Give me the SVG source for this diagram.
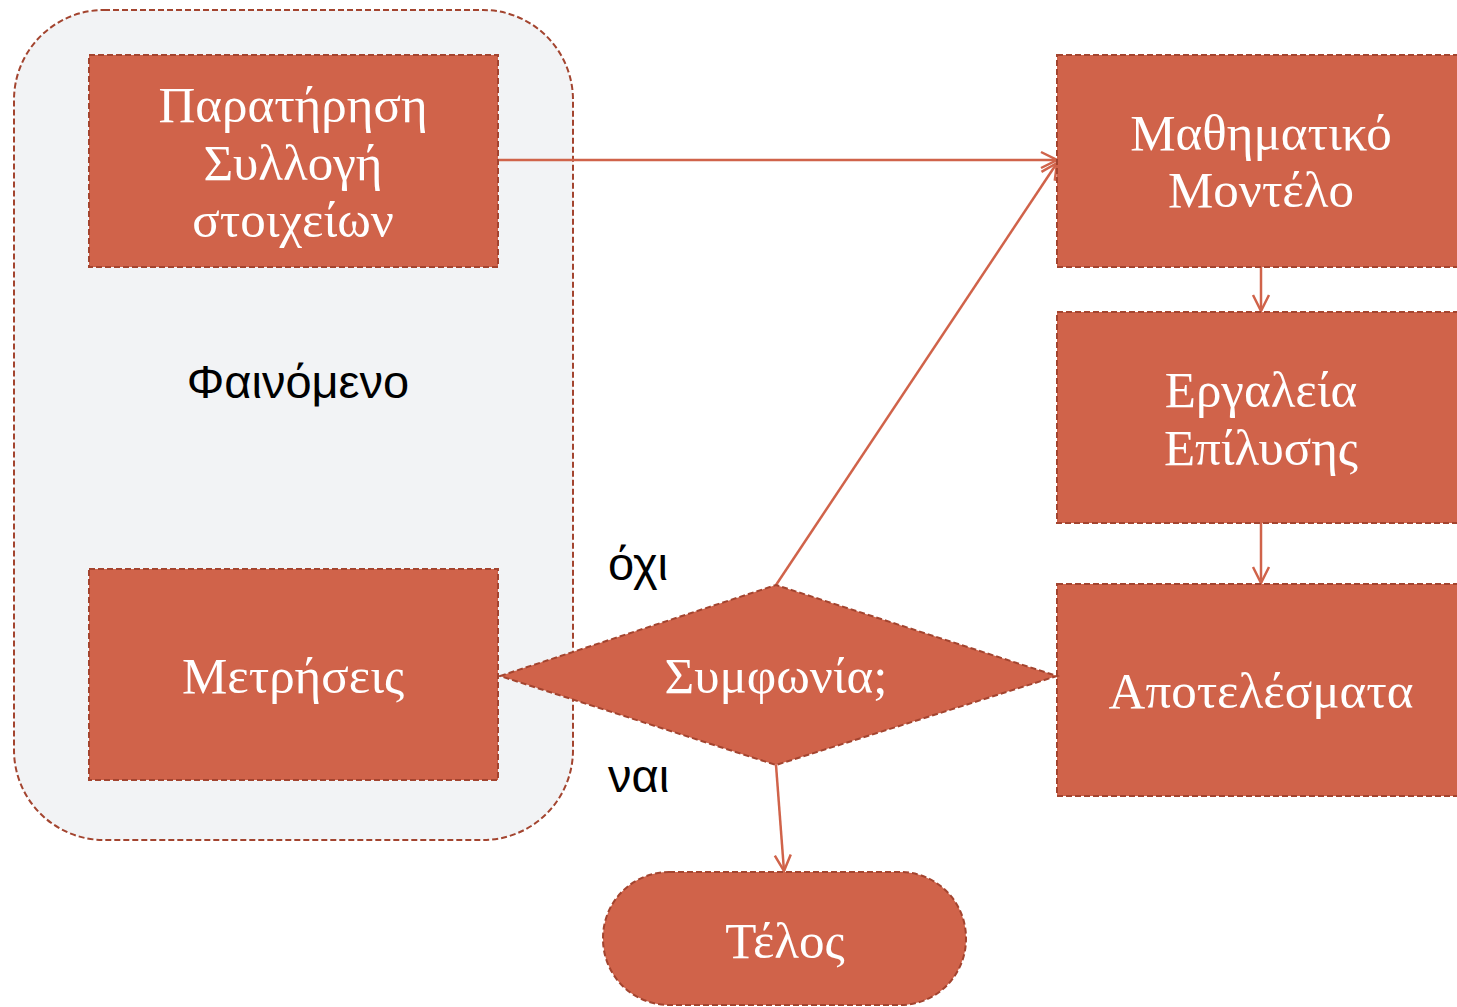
<svg xmlns="http://www.w3.org/2000/svg" width="1457" height="1007" viewBox="0 0 1457 1007">
<style>
.node{fill:#d0634a;stroke:#a3442f;stroke-width:2;stroke-dasharray:6,3}
.t{font-family:"Liberation Serif","DejaVu Serif",serif;font-size:51px;fill:#ffffff;text-anchor:middle}
.s{font-family:"Liberation Sans",Arial,sans-serif;font-size:47px;fill:#000000}
.c{fill:none;stroke:#d0634a;stroke-width:2.5}
</style>
<defs>
<marker id="ah" viewBox="0 0 20 20" refX="18" refY="10" markerWidth="20" markerHeight="20" markerUnits="userSpaceOnUse" orient="auto">
<path d="M2,2 L18,10 L2,18" fill="none" stroke="#d0634a" stroke-width="2.5"/>
</marker>
</defs>
<rect width="1457" height="1007" fill="#ffffff"/>
<g id="container">
<rect x="14" y="10" width="559" height="830" rx="90" fill="#f2f3f5" stroke="#a3442f" stroke-width="2" stroke-dasharray="6,3"/>
<text class="s" x="298" y="398" text-anchor="middle">Φαινόμενο</text>
</g>
<g id="connectors">
<line class="c" x1="498" y1="160" x2="1057" y2="160" marker-end="url(#ah)"/>
<line class="c" x1="776" y1="585" x2="1057" y2="163" marker-end="url(#ah)"/>
<line class="c" x1="1261" y1="267" x2="1261" y2="311" marker-end="url(#ah)"/>
<line class="c" x1="1261" y1="523" x2="1261" y2="583" marker-end="url(#ah)"/>
<line class="c" x1="776" y1="765" x2="784" y2="871" marker-end="url(#ah)"/>
</g>
<g id="n-observe">
<rect class="node" x="89" y="55" width="409" height="212"/>
<text class="t" x="293" y="122">Παρατήρηση</text>
<text class="t" x="293" y="180">Συλλογή</text>
<text class="t" x="293" y="237">στοιχείων</text>
</g>
<g id="n-measure">
<rect class="node" x="89" y="569" width="409" height="211"/>
<text class="t" x="293" y="693">Μετρήσεις</text>
</g>
<g id="n-model">
<rect class="node" x="1057" y="55" width="410" height="212"/>
<text class="t" x="1261" y="150">Μαθηματικό</text>
<text class="t" x="1261" y="207">Μοντέλο</text>
</g>
<g id="n-tools">
<rect class="node" x="1057" y="312" width="410" height="211"/>
<text class="t" x="1261" y="407">Εργαλεία</text>
<text class="t" x="1261" y="465">Επίλυσης</text>
</g>
<g id="n-results">
<rect class="node" x="1057" y="584" width="410" height="212"/>
<text class="t" x="1261" y="708">Αποτελέσματα</text>
</g>
<g id="n-decision">
<polygon class="node" points="500,676 776,585 1057,676 776,765"/>
<text class="t" x="776" y="693">Συμφωνία;</text>
</g>
<g id="labels">
<text class="s" x="608" y="580">όχι</text>
<text class="s" x="608" y="792">ναι</text>
</g>
<g id="n-end">
<rect class="node" x="603" y="872" width="363" height="133" rx="66"/>
<text class="t" x="785" y="958">Τέλος</text>
</g>
</svg>
